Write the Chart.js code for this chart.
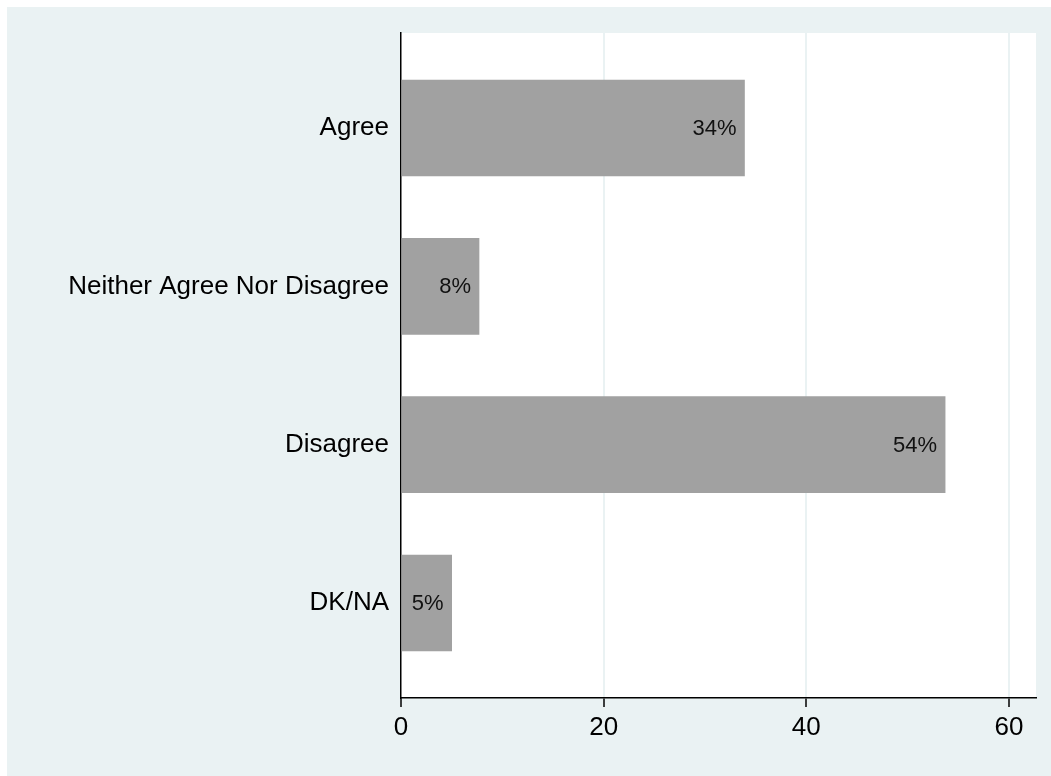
<!DOCTYPE html>
<html>
<head>
<meta charset="utf-8">
<script src="https://cdn.jsdelivr.net/npm/chart.js@4"></script>
<style>
  html, body { margin: 0; padding: 0; background: #eaf2f3; overflow: hidden; }
  #wrap { width: 1051px; height: 776px; position: relative; }
  canvas { display: block; }
</style>
</head>
<body>
<div id="wrap"><canvas id="c" width="1051" height="776"></canvas></div>
<script>
const categories = ["Agree", "Neither Agree Nor Disagree", "Disagree", "DK/NA"];
const values = [33.9, 7.7, 53.7, 5.0];
const valueLabels = ["34%", "8%", "54%", "5%"];
const xTicks = [0, 20, 40, 60];

const FONT = "'Liberation Sans', Arial, Helvetica, sans-serif";
const BG = '#eaf2f3';

const bgPlugin = {
  id: 'bg',
  beforeDraw(chart) {
    const ctx = chart.ctx, a = chart.chartArea;
    ctx.save();
    ctx.fillStyle = '#ffffff';
    ctx.fillRect(0, 0, chart.width, chart.height);
    ctx.fillStyle = BG;
    ctx.fillRect(7, 7, chart.width - 7, chart.height - 7);
    ctx.fillStyle = '#ffffff';
    ctx.fillRect(a.left, a.top, a.right - a.left, a.bottom - a.top);
    ctx.restore();
  }
};

const labelPlugin = {
  id: 'vlabels',
  afterDatasetsDraw(chart) {
    const ctx = chart.ctx;
    const meta = chart.getDatasetMeta(0);
    ctx.save();
    ctx.font = '22px ' + FONT;
    ctx.fillStyle = '#111111';
    ctx.textAlign = 'right';
    ctx.textBaseline = 'middle';
    meta.data.forEach((bar, i) => {
      ctx.fillText(valueLabels[i], bar.x - 8, bar.y + 1);
    });
    ctx.restore();
  }
};

new Chart(document.getElementById('c'), {
  type: 'bar',
  data: {
    datasets: [{
      data: values.map((v, i) => ({ x: v, y: i })),
      backgroundColor: '#a1a1a1',
      borderWidth: 0,
      barThickness: 96
    }]
  },
  options: {
    indexAxis: 'y',
    responsive: false,
    animation: false,
    layout: { padding: { top: 33, right: 15, left: 0, bottom: 0 } },
    plugins: { legend: { display: false }, tooltip: { enabled: false } },
    scales: {
      x: {
        type: 'linear',
        min: 0,
        max: 62.67,
        offset: false,
        afterBuildTicks(scale) { scale.ticks = xTicks.map(v => ({ value: v })); },
        afterFit(scale) { scale.height = 78; },
        grid: {
          offset: false,
          color: ctx => (ctx.tick && ctx.tick.value === 0) ? 'rgba(0,0,0,0)' : BG,
          lineWidth: 2,
          drawTicks: true,
          tickLength: 9,
          tickColor: '#000000',
          tickWidth: 1.5
        },
        border: { display: true, color: '#000000', width: 1.5 },
        ticks: {
          color: '#000000',
          font: { family: FONT, size: 26 },
          padding: 5,
          maxRotation: 0
        }
      },
      y: {
        type: 'linear',
        min: -0.6,
        max: 3.6,
        reverse: true,
        offset: false,
        afterBuildTicks(scale) { scale.ticks = categories.map((_, i) => ({ value: i })); },
        afterFit(scale) { scale.width = 401; },
        grid: { display: false, drawTicks: false, offset: false },
        border: { display: true, color: '#000000', width: 1.5 },
        ticks: {
          color: '#000000',
          font: { family: FONT, size: 26 },
          padding: 12,
          callback: v => categories[v] !== undefined ? categories[v] : ''
        }
      }
    }
  },
  plugins: [bgPlugin, labelPlugin]
});
</script>
</body>
</html>
